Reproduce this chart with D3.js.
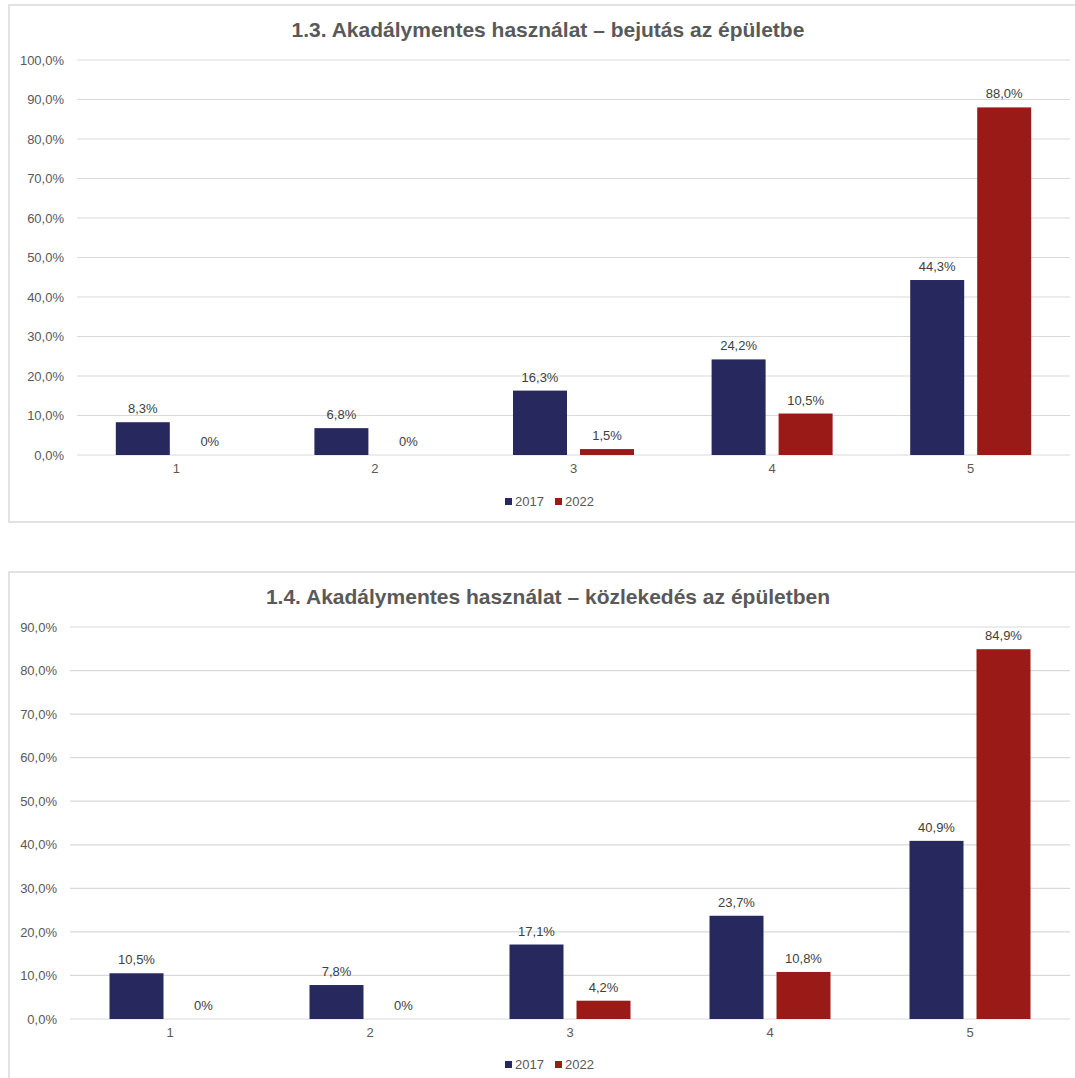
<!DOCTYPE html>
<html>
<head>
<meta charset="utf-8">
<script src="https://cdn.jsdelivr.net/npm/d3@7"></script>
<style>
  html, body { margin: 0; padding: 0; background: #ffffff; }
  svg { display: block; font-family: "Liberation Sans", Arial, sans-serif; }
</style>
</head>
<body>
<svg id="page" width="1075" height="1078"></svg>
<script>
// Ratings 1–5 on the x axis
const categories = ["1", "2", "3", "4", "5"];
const seriesNames = ["2017", "2022"];

// 1.3 – getting into the building (%)
const entry2017 = [8.3, 6.8, 16.3, 24.2, 44.3];
const entry2022 = [0, 0, 1.5, 10.5, 88.0];
const entryTicks = [0, 10, 20, 30, 40, 50, 60, 70, 80, 90, 100];

// 1.4 – moving around inside the building (%)
const inside2017 = [10.5, 7.8, 17.1, 23.7, 40.9];
const inside2022 = [0, 0, 4.2, 10.8, 84.9];
const insideTicks = [0, 10, 20, 30, 40, 50, 60, 70, 80, 90];

const colors = { "2017": "#27285E", "2022": "#9A1A17" };

const huLocale = d3.formatLocale({ decimal: ",", thousands: " ", grouping: [3], currency: ["", " Ft"] });
const fmtTick = v => huLocale.format(".1f")(v) + "%";
const fmtLabel = v => v === 0 ? "0%" : huLocale.format(".1f")(v) + "%";

const svg = d3.select("#page");

function drawChart(cfg) {
  const g = svg.append("g");

  // chart frame
  g.append("rect")
    .attr("x", cfg.frame[0]).attr("y", cfg.frame[1])
    .attr("width", cfg.frame[2]).attr("height", cfg.frame[3])
    .attr("fill", "#fff").attr("stroke", "#d9d9d9").attr("stroke-width", 1.5);

  // title
  g.append("text")
    .attr("x", cfg.titleX).attr("y", cfg.titleY)
    .attr("text-anchor", "middle")
    .attr("font-size", 21).attr("font-weight", "bold")
    .attr("fill", "#595959")
    .text(cfg.title);

  const x0 = d3.scaleBand().domain(categories)
    .range([cfg.left, cfg.right]).paddingInner(0).paddingOuter(0);
  const barW = 54, gap = 13;
  const y = d3.scaleLinear().domain([0, d3.max(cfg.ticks)]).range([cfg.bottom, cfg.top]);

  // gridlines
  g.append("g").selectAll("line").data(cfg.ticks).join("line")
    .attr("x1", cfg.left).attr("x2", cfg.right)
    .attr("y1", d => y(d)).attr("y2", d => y(d))
    .attr("stroke", "#d9d9d9").attr("stroke-width", 1.2);

  // y axis labels
  const yAxis = d3.axisLeft(y).tickValues(cfg.ticks).tickFormat(fmtTick).tickSize(0).tickPadding(13);
  const ya = g.append("g").attr("transform", `translate(${cfg.left},0)`).call(yAxis);
  ya.select(".domain").remove();
  ya.selectAll("text").attr("font-size", 13).attr("fill", "#595959")
    .attr("font-family", "Liberation Sans, Arial, sans-serif");

  // x axis labels
  const xAxis = d3.axisBottom(x0).tickSize(0).tickPadding(9);
  const xa = g.append("g").attr("transform", `translate(0,${cfg.bottom})`).call(xAxis);
  xa.select(".domain").remove();
  xa.selectAll("text").attr("font-size", 13).attr("fill", "#595959")
    .attr("font-family", "Liberation Sans, Arial, sans-serif");

  const offsets = { "2017": -(gap / 2 + barW), "2022": gap / 2 };
  const rows = [];
  categories.forEach((c, i) => {
    rows.push({ cat: c, s: "2017", v: cfg.a[i] });
    rows.push({ cat: c, s: "2022", v: cfg.b[i] });
  });
  const cx = c => x0(c) + x0.bandwidth() / 2;

  g.append("g").selectAll("rect").data(rows).join("rect")
    .attr("x", d => cx(d.cat) + offsets[d.s])
    .attr("y", d => y(d.v))
    .attr("width", barW)
    .attr("height", d => y(0) - y(d.v))
    .attr("fill", d => colors[d.s]);

  g.append("g").selectAll("text").data(rows).join("text")
    .attr("x", d => cx(d.cat) + offsets[d.s] + barW / 2)
    .attr("y", d => y(d.v) - 9)
    .attr("text-anchor", "middle")
    .attr("font-size", 13).attr("fill", "#404040")
    .text(d => fmtLabel(d.v));

  // legend
  const lg = g.append("g").attr("transform", `translate(${cfg.legendX},${cfg.legendY})`);
  const items = [{ s: "2017", dx: 0 }, { s: "2022", dx: 50 }];
  items.forEach(it => {
    lg.append("rect").attr("x", it.dx).attr("y", -8).attr("width", 7).attr("height", 7)
      .attr("fill", colors[it.s]);
    lg.append("text").attr("x", it.dx + 10).attr("y", 0)
      .attr("font-size", 13).attr("fill", "#595959").text(it.s);
  });
}

drawChart({
  frame: [9, 5, 1080, 517],
  title: "1.3. Akadálymentes használat – bejutás az épületbe",
  titleX: 548, titleY: 37,
  left: 77, right: 1070, top: 60, bottom: 455,
  ticks: entryTicks, a: entry2017, b: entry2022,
  legendX: 505, legendY: 506
});

drawChart({
  frame: [9, 572, 1080, 520],
  title: "1.4. Akadálymentes használat – közlekedés az épületben",
  titleX: 548, titleY: 604,
  left: 70, right: 1070, top: 627, bottom: 1019,
  ticks: insideTicks, a: inside2017, b: inside2022,
  legendX: 505, legendY: 1069
});
</script>
</body>
</html>
